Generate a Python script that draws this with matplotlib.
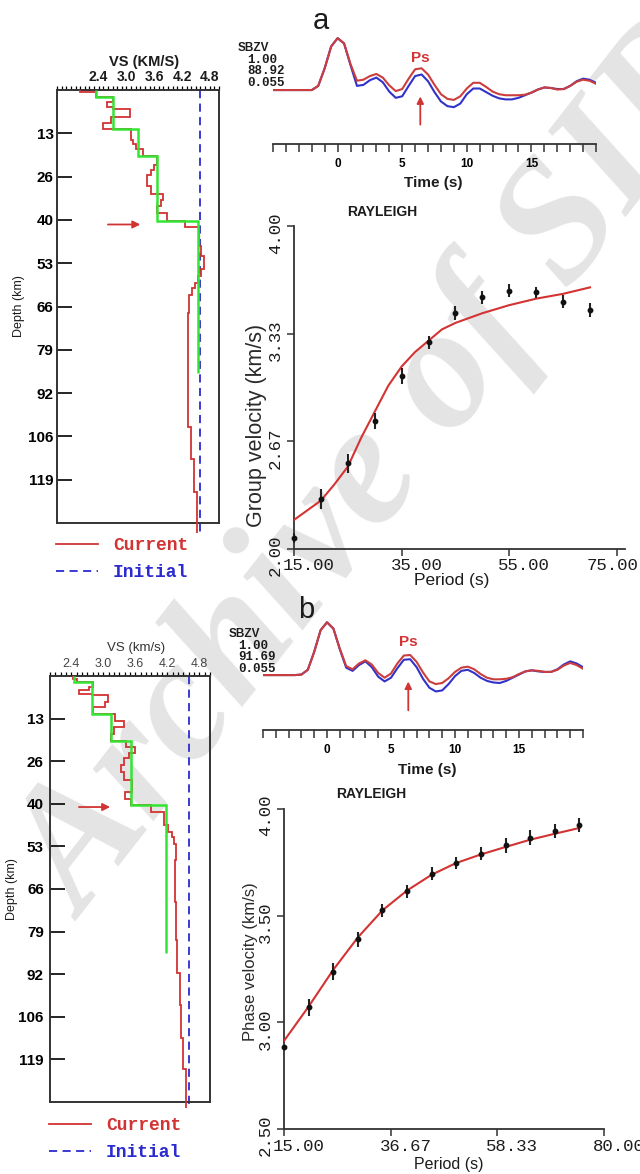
import numpy as np
import matplotlib.pyplot as plt
from matplotlib.lines import Line2D
from matplotlib.ticker import FixedLocator, MultipleLocator, FormatStrFormatter
from matplotlib.transforms import ScaledTranslation

plt.rcParams['font.family'] = ['Liberation Sans', 'DejaVu Sans']

W, H = 640, 1174
RED = '#d23333'
BLUE = '#2b2bd0'
GREEN = '#33e533'
WRED = '#cc3d3d'
WBLUE = '#3232c8'
INK = '#1c1c1c'
MONO = ['Liberation Mono', 'DejaVu Sans Mono']
DASH = (0, (4.5, 3))

# ---------------- data ----------------
depth_ticks = [13.2, 26.4, 39.6, 52.8, 66.0, 79.2, 92.4, 105.6, 118.8]
vs_ticks = [2.4, 3.0, 3.6, 4.2, 4.8]

# (a) shear velocity models, layer edges (km) and Vs (km/s)
a_cur_edges = [0, 0.7, 2.0, 3.8, 5.1, 5.8, 8.3, 10.2, 11.9, 15.2, 16.5, 18.0, 20.1,
               22.8, 24.4, 25.9, 29.4, 31.8, 33.5, 35.5, 37.6, 39.8, 41.9, 47.5,
               50.6, 54.7, 56.7, 58.8, 60.3, 62.4, 68.0, 82.3, 102.8, 112.5, 122.7, 135]
a_cur_vs = [1.99, 2.35, 2.70, 2.58, 2.70, 3.07, 2.67, 2.49, 3.10, 3.14, 3.21, 3.36,
            3.65, 3.60, 3.53, 3.44, 3.53, 3.80, 3.75, 3.67, 3.88, 4.26, 4.56, 4.62,
            4.67, 4.62, 4.55, 4.48, 4.41, 4.36, 4.33, 4.32, 4.39, 4.45, 4.52]
a_ref_edges = [0, 2.0, 11.9, 20.1, 39.8, 86.4]
a_ref_vs = [2.35, 2.70, 3.24, 3.67, 4.55]
a_init_depth = [0, 135]
a_init_vs = [4.6, 4.6]
a_moho = 41.0

# (b) shear velocity models
b_cur_edges = [0, 0.8, 1.9, 3.4, 4.2, 5.5, 6.0, 8.1, 9.6, 11.7, 13.8, 15.8, 17.9,
               20.2, 22.0, 23.9, 25.3, 27.7, 29.8, 32.2, 36.0, 38.1, 40.1, 42.2,
               46.3, 48.4, 49.9, 52.0, 57.0, 70.0, 81.7, 91.9, 101.8, 112.1, 121.9, 134]
b_cur_vs = [2.44, 2.50, 2.81, 2.74, 2.54, 2.78, 3.09, 3.03, 2.81, 3.21, 3.39, 3.20,
            3.15, 3.43, 3.60, 3.49, 3.39, 3.33, 3.39, 3.54, 3.41, 3.51, 3.90, 4.14,
            4.21, 4.28, 4.33, 4.36, 4.35, 4.36, 4.38, 4.43, 4.46, 4.50, 4.55]
b_ref_edges = [0, 1.9, 11.7, 20.2, 40.1, 85.8]
b_ref_vs = [2.45, 2.78, 3.15, 3.51, 4.18]
b_init_depth = [0, 134]
b_init_vs = [4.6, 4.6]
b_moho = 40.6

# receiver functions, time (s) and normalised amplitude
rf_time = np.arange(-5, 20.01, 0.5)
a_rf_obs = [0, 0, 0, 0, 0, 0, 0.0, 0.08, 0.42, 0.84, 1.0, 0.90, 0.50, 0.18, 0.20,
            0.27, 0.31, 0.24, 0.09, -0.02, 0.02, 0.22, 0.40, 0.42, 0.30, 0.10, -0.08,
            -0.17, -0.19, -0.12, 0.03, 0.14, 0.14, 0.06, -0.03, -0.08, -0.10, -0.10,
            -0.10, -0.09, -0.05, 0.01, 0.05, 0.04, 0.01, 0.02, 0.08, 0.16, 0.20, 0.18, 0.12]
a_rf_syn = [0, 0, 0, 0, 0, 0, 0.0, 0.08, 0.42, 0.84, 1.0, 0.90, 0.48, 0.08, 0.10,
            0.19, 0.24, 0.15, -0.03, -0.15, -0.12, 0.08, 0.27, 0.30, 0.17, -0.04, -0.22,
            -0.31, -0.33, -0.26, -0.08, 0.03, 0.03, -0.04, -0.11, -0.16, -0.18, -0.18,
            -0.15, -0.10, -0.05, 0.01, 0.05, 0.04, 0.02, 0.02, 0.08, 0.17, 0.22, 0.20, 0.14]
b_rf_obs = [0, 0, 0, 0, 0, 0, 0.01, 0.10, 0.44, 0.85, 1.0, 0.88, 0.50, 0.17, 0.11,
            0.22, 0.28, 0.20, 0.04, -0.05, 0.03, 0.22, 0.37, 0.38, 0.25, 0.05, -0.12,
            -0.17, -0.15, -0.06, 0.06, 0.14, 0.16, 0.11, 0.02, -0.05, -0.08, -0.08,
            -0.07, -0.04, 0.02, 0.07, 0.09, 0.08, 0.06, 0.06, 0.10, 0.18, 0.23, 0.19, 0.12]
b_rf_syn = [0, 0, 0, 0, 0, 0, 0.01, 0.10, 0.44, 0.85, 1.0, 0.88, 0.49, 0.14, 0.08,
            0.19, 0.26, 0.15, -0.03, -0.12, -0.05, 0.13, 0.29, 0.30, 0.15, -0.07, -0.24,
            -0.31, -0.29, -0.17, -0.02, 0.08, 0.10, 0.04, -0.05, -0.11, -0.14, -0.15,
            -0.11, -0.05, 0.01, 0.07, 0.09, 0.07, 0.06, 0.06, 0.11, 0.20, 0.26, 0.22, 0.15]
a_rf_info = ['1.00', '88.92', '0.055']
b_rf_info = ['1.00', '91.69', '0.055']
ps_time = [6.4, 6.35]

# dispersion
a_periods = [15, 20, 25, 30, 35, 40, 45, 50, 55, 60, 65, 70]
a_group_obs = [2.07, 2.31, 2.53, 2.79, 3.07, 3.28, 3.46, 3.56, 3.60, 3.59, 3.53, 3.48]
a_group_err = [0.03, 0.06, 0.06, 0.05, 0.05, 0.04, 0.045, 0.04, 0.04, 0.035, 0.04, 0.045]
a_fit_periods = [15, 17.5, 20, 22.5, 25, 27.5, 30, 32.5, 35, 37.5, 40, 42.5, 45, 50, 55, 60, 65, 70]
a_group_fit = [2.18, 2.24, 2.30, 2.40, 2.51, 2.69, 2.85, 3.01, 3.13, 3.22, 3.29, 3.36,
               3.40, 3.46, 3.51, 3.55, 3.58, 3.62]

b_periods = [15, 20, 25, 30, 35, 40, 45, 50, 55, 60, 65, 70, 75]
b_phase_obs = [2.886, 3.071, 3.237, 3.390, 3.525, 3.615, 3.697, 3.747, 3.790, 3.830, 3.865, 3.897, 3.925]
b_phase_err = [0.0, 0.04, 0.04, 0.035, 0.03, 0.03, 0.03, 0.03, 0.03, 0.035, 0.035, 0.035, 0.035]
b_phase_fit = [2.913, 3.074, 3.246, 3.398, 3.525, 3.618, 3.692, 3.747, 3.787, 3.822, 3.856, 3.884, 3.911]

fig = plt.figure(figsize=(W / 100, H / 100), dpi=100)
fig.patch.set_facecolor('white')


def add_ax(x0, y0, x1, y1):
    # box given in pixels from the top-left corner
    ax = fig.add_axes([x0 / W, 1 - y1 / H, (x1 - x0) / W, (y1 - y0) / H])
    ax.set_facecolor('none')
    return ax


def shift(labels, dx=0, dy=0):
    for lb in labels:
        lb.set_transform(lb.get_transform() + ScaledTranslation(dx / 100, dy / 100, fig.dpi_scale_trans))


def ftext(x, y, s, **kw):
    return fig.text(x / W, 1 - y / H, s, **kw)


# watermark behind everything
fig.text(0.60, 0.60, 'Archive of SID', rotation=52, fontsize=125, color='#e4e4e4',
         family=['Liberation Serif', 'DejaVu Serif'], style='italic', weight='bold',
         ha='center', va='center', zorder=-5)


def profile(box, xlim, cur_e, cur_v, ref_e, ref_v, init_d, init_v, moho, arrow_v,
            xlabel, bold_x, xl_y, yl_x, ypad, legend_xy):
    ax = add_ax(*box)
    ax.set_xlim(*xlim)
    ax.set_ylim(132, 0)
    ax.stairs(cur_v, cur_e, orientation='horizontal', baseline=None, color=RED,
              lw=1.3, clip_on=False, zorder=3)
    ax.stairs(ref_v, ref_e, orientation='horizontal', baseline=None, color=GREEN,
              lw=1.8, zorder=4)
    ax.plot(init_v, init_d, color=BLUE, lw=1.3, ls=DASH, clip_on=False, zorder=2)
    ax.annotate('', xy=(arrow_v[1], moho), xytext=(arrow_v[0], moho),
                arrowprops=dict(arrowstyle='-|>', color=RED, lw=1.3, mutation_scale=11))
    for s in ax.spines.values():
        s.set_linewidth(1.4)
        s.set_color('#333333')
    ax.xaxis.tick_top()
    ax.xaxis.set_major_locator(FixedLocator(vs_ticks))
    ax.xaxis.set_minor_locator(MultipleLocator(0.1))
    ax.xaxis.set_major_formatter(FormatStrFormatter('%.1f'))
    ax.tick_params(axis='x', which='both', direction='out', length=3, width=0.9,
                   top=True, bottom=False, labeltop=True, labelbottom=False, pad=1.5,
                   labelsize=10 if bold_x else 9, labelcolor=INK if bold_x else '#444444')
    for lb in ax.get_xticklabels():
        lb.set_fontweight('bold' if bold_x else 'normal')
    ax.set_yticks(depth_ticks)
    ax.set_yticklabels([f'{d:.0f}' for d in depth_ticks], fontweight='bold')
    ax.tick_params(axis='y', direction='in', length=11, width=1.2, labelsize=11,
                   pad=ypad, left=True, right=False)
    ax.xaxis.set_label_position('top')
    ax.set_xlabel(xlabel, fontsize=10.5 if bold_x else 9.5,
                  fontweight='bold' if bold_x else 'normal',
                  color=INK if bold_x else '#333333', va='center')
    ax.xaxis.set_label_coords(0.54, xl_y)
    ax.set_ylabel('Depth (km)', fontsize=9, color=INK, va='center')
    ax.yaxis.set_label_coords(yl_x, 0.5)
    handles = [Line2D([], [], color=RED, lw=1.3),
               Line2D([], [], color=BLUE, lw=1.3, ls=DASH)]
    fig.legend(handles, ['Current', 'Initial'], loc='upper left',
               bbox_to_anchor=(legend_xy[0] / W, 1 - legend_xy[1] / H), frameon=False,
               prop=dict(family=MONO, weight='bold', size=13), labelcolor=[RED, BLUE],
               handlelength=2.3, handletextpad=0.85, labelspacing=0.55,
               borderpad=0, borderaxespad=0)
    return ax


profile((57, 90, 219, 523), (1.5, 5.0), a_cur_edges, a_cur_vs, a_ref_edges, a_ref_vs,
        a_init_depth, a_init_vs, a_moho, (2.54, 3.36), 'VS (KM/S)', True,
        1.065, -0.235, 2.5, (56, 537))
profile((50, 676, 210, 1102), (2.0, 5.0), b_cur_edges, b_cur_vs, b_ref_edges, b_ref_vs,
        b_init_depth, b_init_vs, b_moho, (2.49, 3.18), 'VS (km/s)', False,
        1.066, -0.235, 4.5, (49, 1117))


def rf_panel(box, obs, syn, ps_t, info, tag, tag_xy, info_xy, tlabel_x):
    ax = add_ax(*box)
    ax.plot(rf_time, obs, color=WRED, lw=1.5, zorder=3)
    ax.plot(rf_time, syn, color=WBLUE, lw=1.5, zorder=2)
    ax.set_xlim(-5, 20)
    ax.set_ylim(-1.04, 1.1)
    for side in ('left', 'right', 'top'):
        ax.spines[side].set_visible(False)
    ax.spines['bottom'].set_linewidth(1.3)
    ax.spines['bottom'].set_color('#333333')
    ax.set_yticks([])
    ax.xaxis.set_major_locator(FixedLocator([0, 5, 10, 15]))
    ax.xaxis.set_minor_locator(MultipleLocator(1))
    ax.tick_params(axis='x', which='both', direction='out', length=6, width=1.1,
                   color='#333333')
    ax.tick_params(axis='x', which='major', labelsize=8.5, pad=4)
    for lb in ax.get_xticklabels():
        lb.set_fontweight('bold')
    ax.set_xlabel('Time (s)', fontsize=11, fontweight='bold', color=INK, va='center')
    ax.xaxis.set_label_coords(tlabel_x, -0.35)
    ax.text(ps_t, 0.62, 'Ps', color=RED, fontsize=11, fontweight='bold',
            ha='center', va='center')
    ax.annotate('', xy=(ps_t, -0.07), xytext=(ps_t, -0.72),
                arrowprops=dict(arrowstyle='-|>', color=RED, lw=1.3, mutation_scale=10))
    ftext(tag_xy[0], tag_xy[1], tag, fontsize=21, ha='center', va='baseline', color=INK)
    ftext(info_xy[0] - 9, info_xy[1], 'SBZV', fontsize=8.5, fontweight='bold',
          va='center', color=INK)
    for i, s in enumerate(info):
        ftext(info_xy[0], info_xy[1] + 11.7 * (i + 1), s, fontsize=9, family=MONO,
              fontweight='bold', va='center', color=INK)
    return ax


rf_panel((273, 33, 596, 144), a_rf_obs, a_rf_syn, ps_time[0], a_rf_info, 'a',
         (321, 29), (247, 48), 0.495)
rf_panel((263, 617, 583, 730), b_rf_obs, b_rf_syn, ps_time[1], b_rf_info, 'b',
         (306, 618), (238, 634), 0.512)


def disp_panel(box, xlim, ylim, xt, yt, per, obs, err, fper, fit, ylabel, ylsize,
               ylab_xy, plab_xy, plab_size, ray_xy, xpad, last_dx):
    ax = add_ax(*box)
    ax.plot(fper, fit, color=RED, lw=1.5, zorder=3)
    ax.errorbar(per, obs, yerr=err, fmt='o', ms=3.2, color='#111111', ecolor='#222222',
                elinewidth=1.5, capsize=0, zorder=4, clip_on=False)
    ax.set_xlim(*xlim)
    ax.set_ylim(*ylim)
    for side in ('right', 'top'):
        ax.spines[side].set_visible(False)
    for side in ('left', 'bottom'):
        ax.spines[side].set_linewidth(1.3)
        ax.spines[side].set_color('#333333')
    ax.set_xticks(xt)
    ax.set_yticks(yt)
    ax.xaxis.set_major_formatter(FormatStrFormatter('%.2f'))
    ax.yaxis.set_major_formatter(FormatStrFormatter('%.2f'))
    ax.tick_params(axis='both', direction='out', length=5, width=1.1, color='#333333',
                   labelsize=12.5, labelcolor=INK)
    ax.tick_params(axis='x', pad=xpad)
    ax.tick_params(axis='y', labelrotation=90, pad=3)
    for lb in ax.get_xticklabels() + ax.get_yticklabels():
        lb.set_fontfamily(MONO)
    xl = ax.get_xticklabels()
    shift(xl[:-1], dx=15)
    shift(xl[-1:], dx=last_dx)
    shift(ax.get_yticklabels(), dy=8)
    ax.set_xlabel('Period (s)', fontsize=plab_size, color=INK, va='center')
    ax.xaxis.set_label_coords(*plab_xy)
    ax.set_ylabel(ylabel, fontsize=ylsize, color='#2a2a2a', va='center')
    ax.yaxis.set_label_coords(*ylab_xy)
    ax.text(ray_xy[0], ray_xy[1], 'RAYLEIGH', transform=ax.transAxes, fontsize=10,
            fontweight='bold', ha='center', va='center', color=INK)
    return ax


disp_panel((294, 226, 625, 549), (15, 76.5), (2.0, 4.0), [15, 35, 55, 75],
           np.linspace(2.0, 4.0, 4), a_periods, a_group_obs, a_group_err,
           a_fit_periods, a_group_fit, 'Group velocity (km/s)', 15.5,
           (-0.112, 0.381), (0.477, -0.098), 12.5, (0.266, 1.043), 1.5, -4)
disp_panel((284, 809, 604, 1129), (15, 80), (2.5, 4.0), np.linspace(15, 80, 4),
           np.linspace(2.5, 4.0, 4), b_periods, b_phase_obs, b_phase_err,
           b_periods, b_phase_fit, 'Phase velocity (km/s)', 12,
           (-0.106, 0.522), (0.516, -0.112), 11.5, (0.273, 1.047), 2.5, 15)

fig.savefig('out.png', dpi=100)
